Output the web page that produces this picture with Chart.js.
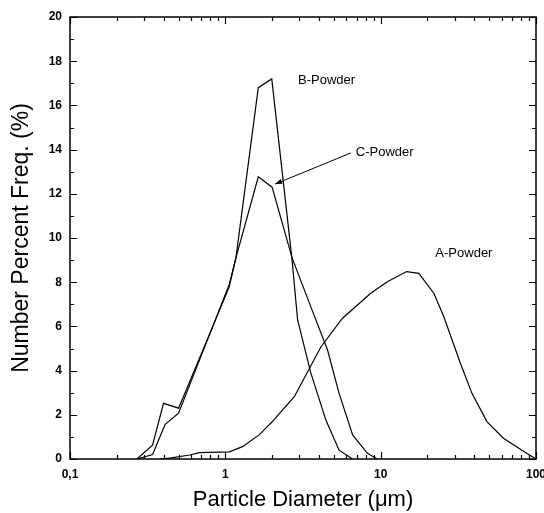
<!DOCTYPE html>
<html><head><meta charset="utf-8">
<script src="https://cdn.jsdelivr.net/npm/chart.js@4"></script>
<style>html,body{margin:0;padding:0;background:#fff}</style>
</head><body>
<canvas id="c" width="544" height="513"></canvas>
<script>
// Particle diameters (µm) and number percent frequency (%)
const bX = [0.27, 0.34, 0.40, 0.50, 0.83, 1.06, 1.17, 1.63, 1.99, 2.69, 2.92, 3.55, 4.44, 5.4, 6.6];
const bY = [0, 0.63, 2.52, 2.3, 6.0, 7.8, 9.1, 16.8, 17.2, 9.0, 6.29, 3.9, 1.76, 0.4, 0];
const cX = [0.27, 0.34, 0.41, 0.50, 0.83, 1.06, 1.17, 1.63, 2.0, 2.69, 3.65, 4.55, 5.4, 6.6, 8.22, 9.5];
const cY = [0, 0.2, 1.57, 2.07, 6.0, 7.9, 9.1, 12.77, 12.3, 9.1, 6.67, 4.93, 2.97, 1.09, 0.26, 0];
const aX = [0.38, 0.45, 0.59, 0.68, 1.06, 1.29, 1.65, 1.98, 2.78, 4.13, 5.68, 8.63, 11.04, 14.7, 17.6, 22, 25.5, 32.6, 38.7, 48.3, 61.7, 87, 100];
const aY = [0, 0.05, 0.18, 0.29, 0.32, 0.56, 1.09, 1.65, 2.82, 5.08, 6.37, 7.5, 8.02, 8.48, 8.4, 7.5, 6.44, 4.33, 2.97, 1.69, 0.94, 0.26, 0];

const xTicks = [0.1, 1, 10, 100];
const xTickLabels = ['0,1', '1', '10', '100'];
const yTicks = [0, 2, 4, 6, 8, 10, 12, 14, 16, 18, 20];

// Annotation anchors (data coordinates)
const labelTexts = ['B-Powder', 'C-Powder', 'A-Powder'];
const labelX = [2.94, 6.92, 22.5];
const labelY = [17.15, 13.85, 9.32];
const arrowFrom = [6.43, 13.85];
const arrowTo = [2.09, 12.44];

const toPts = (xs, ys) => xs.map((v, i) => ({x: v, y: ys[i]}));
const lineDs = (label, xs, ys) => ({
  label, data: toPts(xs, ys), borderColor: '#000', borderWidth: 1.2,
  pointRadius: 0, tension: 0, fill: false
});

const FONT = "'Liberation Sans', Arial, sans-serif";

const framePlugin = {
  id: 'frame',
  afterDatasetsDraw(chart) {
    const {ctx, chartArea: {left, right, top, bottom}, scales: {x, y}} = chart;
    ctx.save();
    ctx.strokeStyle = '#000';
    ctx.lineWidth = 1.5;
    ctx.strokeRect(left, top, right - left, bottom - top);
    ctx.lineWidth = 1.2;
    ctx.beginPath();
    for (let v = 0; v <= 20; v++) {
      const py = Math.round(y.getPixelForValue(v)) + 0.5;
      const len = v % 2 === 0 ? 7 : 4;
      ctx.moveTo(left, py); ctx.lineTo(left + len, py);
      ctx.moveTo(right, py); ctx.lineTo(right - len, py);
    }
    [0.1, 1, 10].forEach(d => {
      for (let m = 1; m <= 10; m++) {
        const v = d * m;
        const px = Math.round(x.getPixelForValue(v)) + 0.5;
        const len = (m === 1 || m === 10) ? 7 : 4;
        ctx.moveTo(px, bottom); ctx.lineTo(px, bottom - len);
        ctx.moveTo(px, top); ctx.lineTo(px, top + len);
      }
    });
    ctx.stroke();

    ctx.fillStyle = '#000';
    ctx.font = '13px ' + FONT;
    ctx.textBaseline = 'middle';
    ctx.textAlign = 'left';
    labelTexts.forEach((t, i) => {
      ctx.fillText(t, x.getPixelForValue(labelX[i]), y.getPixelForValue(labelY[i]));
    });

    const x1 = x.getPixelForValue(arrowFrom[0]), y1 = y.getPixelForValue(arrowFrom[1]);
    const x2 = x.getPixelForValue(arrowTo[0]), y2 = y.getPixelForValue(arrowTo[1]);
    ctx.lineWidth = 1;
    ctx.beginPath(); ctx.moveTo(x1, y1); ctx.lineTo(x2, y2); ctx.stroke();
    const ang = Math.atan2(y2 - y1, x2 - x1);
    const L = 7, W = 2.5;
    ctx.beginPath();
    ctx.moveTo(x2, y2);
    ctx.lineTo(x2 - L * Math.cos(ang) + W * Math.sin(ang), y2 - L * Math.sin(ang) - W * Math.cos(ang));
    ctx.lineTo(x2 - L * Math.cos(ang) - W * Math.sin(ang), y2 - L * Math.sin(ang) + W * Math.cos(ang));
    ctx.closePath(); ctx.fill();
    ctx.restore();
  }
};

new Chart(document.getElementById('c'), {
  type: 'line',
  data: {datasets: [lineDs('B-Powder', bX, bY), lineDs('C-Powder', cX, cY), lineDs('A-Powder', aX, aY)]},
  options: {
    responsive: false, animation: false, devicePixelRatio: 1,
    layout: {padding: {top: 17, right: 8, left: 0, bottom: 0}},
    plugins: {legend: {display: false}, tooltip: {enabled: false}},
    scales: {
      x: {
        type: 'logarithmic', min: 0.1, max: 100,
        afterBuildTicks: s => { s.ticks = xTicks.map(v => ({value: v})); },
        afterFit: s => { s.height = 54; s.paddingLeft = 0; s.paddingRight = 0; },
        grid: {display: false, drawTicks: false}, border: {display: false},
        ticks: {padding: 8, color: '#000', maxRotation: 0, autoSkip: false,
          font: {family: FONT, size: 12, weight: 'bold'},
          callback: (v, i) => xTickLabels[i]},
        title: {display: true, text: 'Particle Diameter (\u03bcm)', color: '#000',
          font: {family: FONT, size: 22}, padding: {top: 0, bottom: 0}}
      },
      y: {
        min: 0, max: 20,
        afterBuildTicks: s => { s.ticks = yTicks.map(v => ({value: v})); },
        afterFit: s => { s.width = 70; s.paddingTop = 0; s.paddingBottom = 0; },
        grid: {display: false, drawTicks: false}, border: {display: false},
        ticks: {padding: 8, color: '#000', autoSkip: false,
          font: {family: FONT, size: 12, weight: 'bold'}},
        title: {display: true, text: 'Number Percent Freq. (%)', color: '#000',
          font: {family: FONT, size: 23}, padding: {top: 8, bottom: 0}}
      }
    }
  },
  plugins: [framePlugin]
});
</script>
</body></html>
